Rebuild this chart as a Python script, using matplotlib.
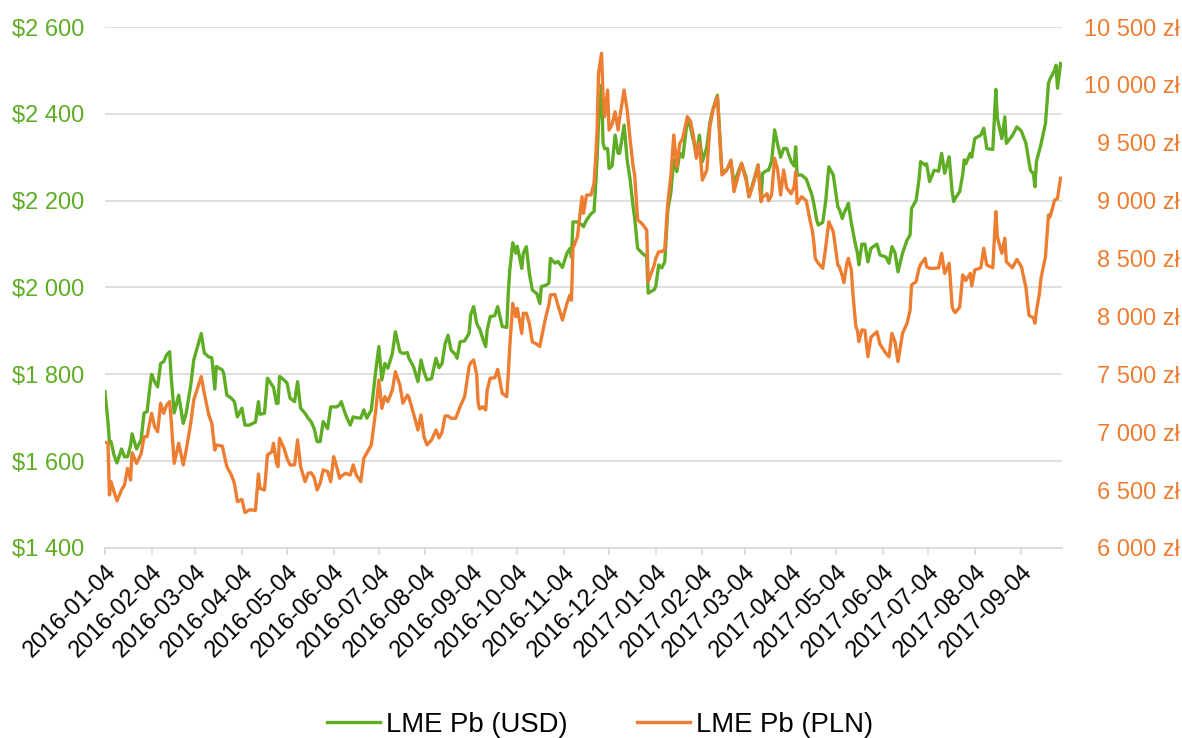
import matplotlib
matplotlib.use("Agg")
import matplotlib.pyplot as plt
import matplotlib.dates as mdates
import pandas as pd

plt.rcParams['font.family'] = ['Liberation Sans', 'DejaVu Sans']

# dni od 2016-01-04
day = [0, 2, 3, 4, 6, 8, 11, 13, 15, 17, 18, 21, 24, 26, 28, 30, 31, 33, 35, 37,
       39, 41, 43, 44, 46, 49, 52, 54, 57, 59, 64, 66, 69, 71, 73, 74, 78, 79, 81, 84,
       86, 88, 91, 93, 96, 100, 102, 103, 106, 108, 111, 112, 114, 115, 116, 119, 121, 123, 126, 128,
       130, 133, 135, 137, 139, 141, 143, 145, 148, 150, 152, 154, 156, 157, 160, 163, 165, 167, 170, 172,
       174, 177, 180, 182, 184, 186, 188, 191, 193, 196, 198, 201, 202, 205, 208, 210, 212, 214, 217, 220,
       222, 224, 226, 228, 230, 233, 234, 236, 239, 242, 243, 245, 247, 248, 249, 251, 253, 254, 256, 259,
       261, 264, 267, 268, 269, 271, 273, 274, 277, 278, 280, 282, 284, 287, 289, 290, 293, 295, 296, 299,
       301, 304, 307, 309, 310, 311, 314, 317, 318, 320, 323, 325, 326, 327, 328, 330, 331, 332, 334, 335,
       337, 339, 341, 342, 345, 347, 349, 351, 352, 354, 357, 360, 361, 365, 366, 368, 370, 372, 374, 376,
       378, 380, 382, 384, 387, 389, 391, 393, 395, 397, 400, 402, 404, 407, 410, 413, 416, 418, 423, 426,
       428, 431, 434, 436, 437, 440, 441, 443, 445, 447, 449, 451, 453, 456, 458, 459, 460, 463, 466, 469,
       470, 471, 472, 473, 474, 477, 479, 481, 484, 487, 488, 490, 491, 493, 494, 496, 497, 499, 500, 501,
       503, 505, 507, 509, 513, 515, 519, 521, 523, 525, 527, 530, 533, 535, 536, 539, 541, 542, 545, 546,
       548, 551, 554, 556, 558, 561, 563, 564, 565, 568, 570, 571, 572, 575, 576, 578, 582, 584, 586, 590,
       592, 593, 596, 598, 599, 603, 606, 609, 612, 614, 615, 617, 618, 619, 621, 622, 625, 627, 628, 630,
       631, 632, 633, 635]

usd = [1760, 1690, 1642, 1645, 1614, 1596, 1628, 1610, 1610, 1636, 1663, 1628, 1649, 1711, 1714, 1775, 1800, 1783, 1771, 1825,
       1829, 1845, 1852, 1794, 1711, 1752, 1687, 1711, 1775, 1833, 1894, 1849, 1840, 1838, 1766, 1818, 1810, 1800, 1752, 1745,
       1737, 1702, 1722, 1683, 1683, 1690, 1737, 1708, 1710, 1791, 1775, 1770, 1733, 1733, 1795, 1787, 1780, 1745, 1737, 1783,
       1722, 1710, 1699, 1691, 1675, 1645, 1645, 1691, 1675, 1725, 1725, 1725, 1730, 1737, 1706, 1683, 1702, 1700, 1699, 1718,
       1699, 1718, 1810, 1864, 1787, 1825, 1814, 1848, 1898, 1852, 1848, 1850, 1837, 1818, 1783, 1833, 1806, 1787, 1790, 1837,
       1815, 1825, 1870, 1890, 1856, 1845, 1837, 1875, 1877, 1895, 1937, 1956, 1918, 1910, 1905, 1883, 1864, 1902, 1933, 1935,
       1956, 1910, 1908, 1986, 2040, 2103, 2079, 2095, 2044, 2079, 2094, 2033, 1994, 1986, 1963, 2002, 2005, 2010, 2067, 2056,
       2060, 2046, 2079, 2090, 2070, 2151, 2151, 2144, 2140, 2155, 2170, 2175, 2230, 2294, 2380, 2466, 2332, 2320, 2320, 2274,
       2280, 2351, 2309, 2309, 2374, 2294, 2248, 2186, 2160, 2090, 2079, 2071, 1987, 1995, 2002, 2052, 2045, 2059, 2178, 2217,
       2294, 2267, 2309, 2300, 2386, 2370, 2340, 2305, 2351, 2290, 2324, 2380, 2410, 2443, 2267, 2270, 2290, 2240, 2286, 2255,
       2209, 2245, 2282, 2200, 2263, 2270, 2270, 2290, 2363, 2330, 2300, 2320, 2320, 2290, 2280, 2324, 2259, 2259, 2250, 2221,
       2210, 2194, 2175, 2155, 2144, 2150, 2200, 2278, 2259, 2186, 2180, 2159, 2170, 2185, 2194, 2148, 2130, 2094, 2080, 2052,
       2100, 2100, 2059, 2090, 2100, 2075, 2070, 2056, 2094, 2080, 2036, 2079, 2109, 2121, 2182, 2200, 2250, 2290, 2282, 2285,
       2244, 2270, 2268, 2309, 2263, 2301, 2220, 2198, 2205, 2221, 2260, 2294, 2285, 2309, 2300, 2343, 2351, 2367, 2320, 2318,
       2456, 2390, 2343, 2393, 2332, 2350, 2370, 2360, 2332, 2290, 2270, 2262, 2232, 2290, 2317, 2330, 2378, 2470, 2480, 2493,
       2500, 2512, 2459, 2516]

pln = [6913, 6907, 6458, 6573, 6486, 6406, 6501, 6544, 6688, 6587, 6823, 6731, 6812, 6961, 6961, 7100, 7163, 7048, 7005, 7250,
       7163, 7235, 7264, 7106, 6731, 6904, 6717, 6846, 7077, 7278, 7480, 7336, 7149, 7077, 6846, 6890, 6880, 6818, 6702, 6630,
       6559, 6400, 6420, 6305, 6330, 6325, 6639, 6515, 6500, 6803, 6832, 6904, 6731, 6702, 6947, 6861, 6775, 6717, 6717, 6933,
       6702, 6573, 6645, 6650, 6610, 6501, 6559, 6674, 6660, 6573, 6789, 6700, 6602, 6620, 6645, 6630, 6717, 6630, 6573, 6775,
       6820, 6890, 7192, 7451, 7206, 7307, 7264, 7365, 7523, 7408, 7250, 7322, 7300, 7163, 7019, 7149, 6961, 6890, 6933, 7019,
       6950, 7000, 7140, 7140, 7120, 7120, 7150, 7221, 7307, 7566, 7600, 7624, 7500, 7250, 7200, 7220, 7192, 7365, 7466, 7470,
       7543, 7336, 7307, 7500, 7739, 8113, 7998, 8070, 7854, 8027, 8027, 7941, 7780, 7760, 7740, 7811, 7998, 8100, 8185, 8190,
       8099, 7969, 8113, 8185, 8140, 8588, 8689, 9034, 8890, 9049, 9049, 9150, 9351, 9600, 10100, 10273, 9900, 9725, 9956, 9610,
       9660, 9768, 9610, 9711, 9956, 9783, 9524, 9293, 9222, 8833, 8800, 8747, 8300, 8444, 8500, 8559, 8559, 8580, 8977, 9207,
       9567, 9293, 9495, 9540, 9725, 9690, 9567, 9366, 9500, 9178, 9265, 9639, 9780, 9898, 9222, 9260, 9351, 9078, 9322, 9180,
       9034, 9150, 9308, 8991, 9030, 9060, 9000, 9049, 9366, 9270, 9049, 9265, 9110, 9060, 9120, 9250, 8977, 9034, 9000, 8800,
       8747, 8650, 8502, 8480, 8460, 8416, 8600, 8818, 8732, 8444, 8430, 8350, 8292, 8459, 8502, 8400, 8200, 7912, 7880, 7782,
       7883, 7880, 7652, 7820, 7868, 7760, 7681, 7652, 7854, 7780, 7609, 7854, 7941, 8050, 8272, 8300, 8416, 8450, 8502, 8430,
       8416, 8416, 8420, 8545, 8372, 8459, 8084, 8050, 8033, 8080, 8358, 8340, 8310, 8372, 8263, 8401, 8420, 8589, 8444, 8420,
       8905, 8689, 8545, 8675, 8473, 8420, 8493, 8430, 8250, 8012, 8000, 7990, 7941, 8050, 8200, 8329, 8516, 8876, 8860, 8950,
       9006, 9010, 9020, 9193]

usd_ticks = [1400, 1600, 1800, 2000, 2200, 2400, 2600]
pln_ticks = [6000, 6500, 7000, 7500, 8000, 8500, 9000, 9500, 10000, 10500]

green = '#5EAD24'
orange = '#ED7D31'
grid_c = '#D9D9D9'

dates = pd.Timestamp('2016-01-04') + pd.to_timedelta(day, unit='D')

fig = plt.figure(figsize=(11.82, 7.38), dpi=100)
ax = fig.add_axes([0.0888, 0.2575, 0.8097, 0.7059])
ax2 = ax.twinx()

l1, = ax.plot(dates, usd, color=green, lw=2.4, label='LME Pb (USD)')
l2, = ax2.plot(dates, pln, color=orange, lw=2.4, label='LME Pb (PLN)')

ax.set_ylim(1400, 2600)
ax.set_yticks(usd_ticks)
ax.set_yticklabels(['$' + f'{v:,}'.replace(',', ' ') for v in usd_ticks])
ax2.set_ylim(6000, 10500)
ax2.set_yticks(pln_ticks)
ax2.set_yticklabels([f'{v:,}'.replace(',', ' ') + ' zł' for v in pln_ticks])

ax.set_xlim(dates[0], dates[-1] + pd.Timedelta(days=1))
ax.xaxis.set_major_locator(mdates.MonthLocator(bymonthday=4))
ax.xaxis.set_major_formatter(mdates.DateFormatter('%Y-%m-%d'))

ax.grid(axis='y', color=grid_c, lw=1.2)
ax.set_axisbelow(True)
for a in (ax, ax2):
    for s in ('top', 'left', 'right'):
        a.spines[s].set_visible(False)
ax2.spines['bottom'].set_visible(False)
ax.spines['bottom'].set_color(grid_c)
ax.spines['bottom'].set_linewidth(1.2)

ax.tick_params(axis='y', length=0, pad=15, labelsize=17, labelcolor=green)
ax2.tick_params(axis='y', length=0, pad=85, labelsize=17, labelcolor=orange)
for t in ax2.get_yticklabels():
    t.set_horizontalalignment('right')
ax.tick_params(axis='x', length=5, width=1.2, color=grid_c, labelsize=17, pad=4)
for t in ax.get_xticklabels():
    t.set_rotation(45)
    t.set_ha('right')
    t.set_rotation_mode('anchor')

fig.legend(handles=[l1, l2], loc='center', bbox_to_anchor=(0.5076, 0.0176), ncol=2,
           frameon=False, fontsize=19.8, handlelength=1.93, handletextpad=0.22,
           columnspacing=2.5, borderpad=0.0)

fig.savefig('out.png', dpi=100)
